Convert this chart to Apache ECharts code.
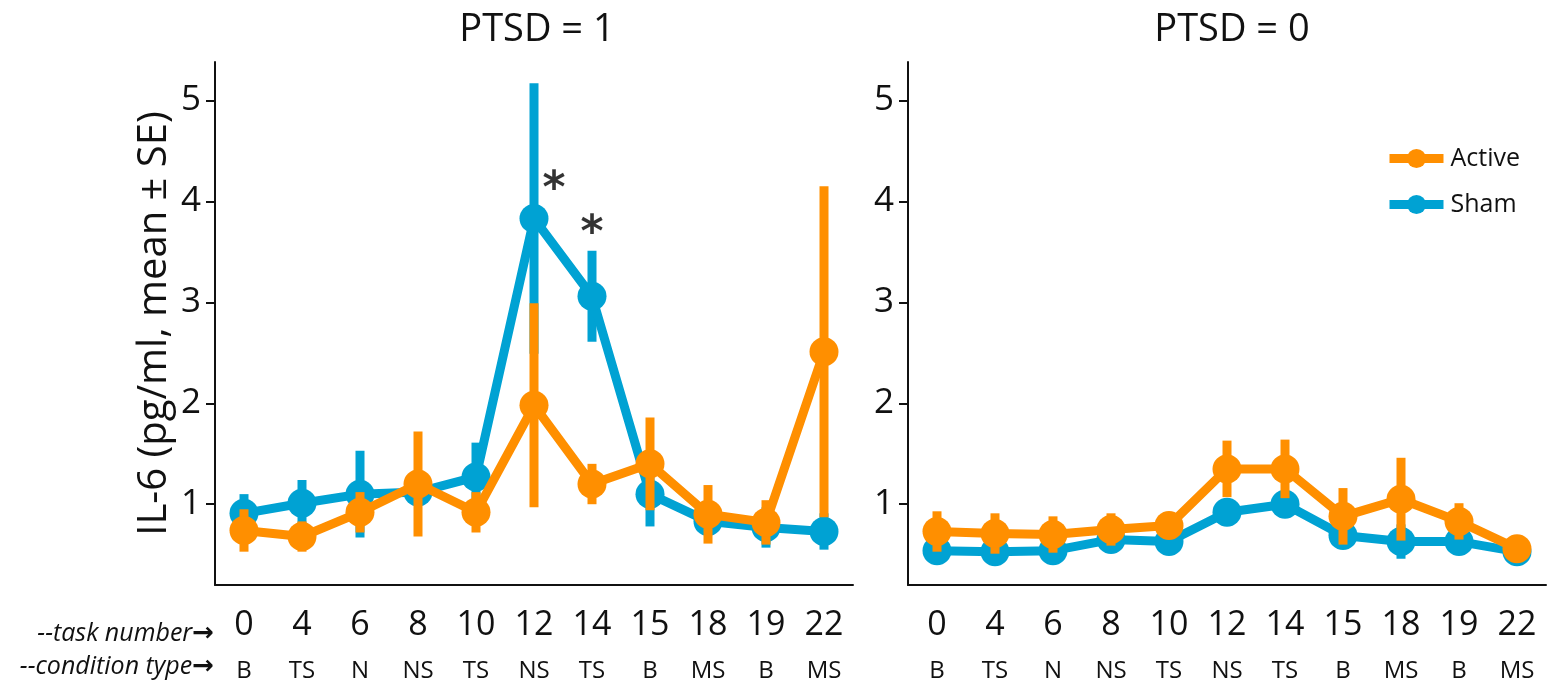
<!DOCTYPE html>
<html>
<head>
<meta charset="utf-8">
<script src="https://cdn.jsdelivr.net/npm/echarts@6/dist/echarts.min.js"></script>
<style>
html, body { margin: 0; padding: 0; background: #fff; }
#chart { width: 1553px; height: 695px; }
</style>
</head>
<body>
<div id="chart"></div>
<script>
// categories
var taskNumbers = ['0', '4', '6', '8', '10', '12', '14', '15', '18', '19', '22'];
var conditionTypes = ['B', 'TS', 'N', 'NS', 'TS', 'NS', 'TS', 'B', 'MS', 'B', 'MS'];
var yTicks = [1, 2, 3, 4, 5];

// PTSD = 1 (mean and SE)
var activeMean1 = [0.74, 0.68, 0.92, 1.20, 0.92, 1.98, 1.20, 1.40, 0.90, 0.82, 2.51];
var activeSE1   = [0.21, 0.15, 0.20, 0.52, 0.20, 1.01, 0.20, 0.46, 0.29, 0.22, 1.64];
var shamMean1   = [0.91, 1.01, 1.10, 1.12, 1.27, 3.83, 3.06, 1.10, 0.83, 0.77, 0.73];
var shamSE1     = [0.19, 0.23, 0.43, 0.12, 0.34, 1.34, 0.45, 0.32, 0.10, 0.20, 0.18];

// PTSD = 0 (mean and SE)
var activeMean0 = [0.73, 0.71, 0.70, 0.75, 0.79, 1.35, 1.35, 0.88, 1.05, 0.83, 0.56];
var activeSE0   = [0.20, 0.20, 0.18, 0.16, 0.13, 0.28, 0.29, 0.28, 0.41, 0.18, 0.03];
var shamMean0   = [0.54, 0.53, 0.54, 0.65, 0.63, 0.92, 1.00, 0.69, 0.63, 0.63, 0.53];
var shamSE0     = [0.08, 0.08, 0.07, 0.06, 0.08, 0.07, 0.13, 0.08, 0.17, 0.07, 0.05];

// significance marks (PTSD = 1)
var sigIndex1 = [5, 6];
var sigValue1 = [4.23, 3.79];
var sigShift1 = [20, 0];

var ORANGE = '#FF8F00';
var BLUE = '#00A2D3';
var FONT = 'Open Sans';

function errData(mean, se) {
    return mean.map(function (m, i) { return [i, m - se[i], m + se[i]]; });
}

function renderErr(params, api) {
    var lo = api.coord([api.value(0), api.value(1)]);
    var hi = api.coord([api.value(0), api.value(2)]);
    return {
        type: 'line',
        shape: { x1: lo[0], y1: lo[1], x2: hi[0], y2: hi[1] },
        style: { stroke: api.visual('color'), lineWidth: 9 }
    };
}

function errSeries(name, idx, mean, se, color, z) {
    return {
        name: name,
        type: 'custom',
        xAxisIndex: idx,
        yAxisIndex: idx,
        renderItem: renderErr,
        encode: { x: 0, y: [1, 2] },
        itemStyle: { color: color },
        data: errData(mean, se),
        z: z,
        silent: true
    };
}

function lineSeries(name, idx, mean, color, z) {
    return {
        name: name,
        type: 'line',
        xAxisIndex: idx,
        yAxisIndex: idx,
        data: mean,
        symbol: 'circle',
        symbolSize: 29,
        itemStyle: { color: color },
        lineStyle: { color: color, width: 9 },
        z: z
    };
}

function xAxis(idx) {
    return {
        gridIndex: idx,
        type: 'category',
        data: taskNumbers,
        boundaryGap: true,
        axisLine: { lineStyle: { color: '#111', width: 2 } },
        axisTick: { alignWithLabel: true, length: 10, lineStyle: { color: '#111', width: 2 } },
        axisLabel: {
            interval: 0,
            margin: 19,
            color: '#111',
            fontFamily: FONT,
            formatter: function (v, i) {
                return '{a|' + v + '}\n{b|' + conditionTypes[i] + '}';
            },
            rich: {
                a: { fontSize: 34, lineHeight: 42, fontFamily: FONT, color: '#111' },
                b: { fontSize: 24, lineHeight: 50, fontFamily: FONT, color: '#111' }
            }
        },
        splitLine: { show: false }
    };
}

function yAxis(idx, name) {
    return {
        gridIndex: idx,
        type: 'value',
        min: 0.2,
        max: 5.38,
        name: name,
        nameLocation: 'middle',
        nameGap: 40,
        nameTextStyle: { fontSize: 40, fontFamily: FONT, color: '#111' },
        axisLine: { show: true, lineStyle: { color: '#111', width: 2 } },
        axisTick: { show: true, length: 9, customValues: yTicks, lineStyle: { color: '#111', width: 2 } },
        axisLabel: { customValues: yTicks, fontSize: 35, margin: 14, color: '#111', fontFamily: FONT },
        splitLine: { show: false }
    };
}

var chart = echarts.init(document.getElementById('chart'));

chart.setOption({
    animation: false,
    backgroundColor: '#fff',
    textStyle: { fontFamily: FONT },
    title: [
        { text: 'PTSD = 1', left: 532, top: 6, textAlign: 'center',
          textStyle: { fontSize: 38, fontWeight: 'normal', fontFamily: FONT, color: '#111' } },
        { text: 'PTSD = 0', left: 1227, top: 6, textAlign: 'center',
          textStyle: { fontSize: 38, fontWeight: 'normal', fontFamily: FONT, color: '#111' } }
    ],
    legend: {
        data: ['Active', 'Sham'],
        orient: 'vertical',
        left: 1380,
        top: 141,
        itemWidth: 54,
        itemHeight: 24,
        itemGap: 21,
        lineStyle: { width: 9 },
        textStyle: { fontSize: 25, fontFamily: FONT, color: '#111', padding: [0, 0, 0, 2] }
    },
    grid: [
        { left: 215, top: 62, width: 638, height: 523 },
        { left: 908, top: 62, width: 638, height: 523 }
    ],
    xAxis: [xAxis(0), xAxis(1)],
    yAxis: [yAxis(0, 'IL-6 (pg/ml, mean \u00b1 SE)'), yAxis(1, '')],
    graphic: [
        { type: 'text', right: 1553 - 214, top: 621,
          style: {
              text: '{t|--task number}{r|\u2192}',
              rich: {
                  t: { fontSize: 25, fontStyle: 'italic', fontFamily: FONT, fill: '#111' },
                  r: { fontSize: 26, fontFamily: 'DejaVu Sans', fontWeight: 'bold', fill: '#111' }
              }
          } },
        { type: 'text', right: 1553 - 214, top: 654,
          style: {
              text: '{t|--condition type}{r|\u2192}',
              rich: {
                  t: { fontSize: 25, fontStyle: 'italic', fontFamily: FONT, fill: '#111' },
                  r: { fontSize: 26, fontFamily: 'DejaVu Sans', fontWeight: 'bold', fill: '#111' }
              }
          } }
    ],
    series: [
        errSeries('Sham SE', 0, shamMean1, shamSE1, BLUE, 2),
        lineSeries('Sham', 0, shamMean1, BLUE, 3),
        errSeries('Active SE', 0, activeMean1, activeSE1, ORANGE, 4),
        lineSeries('Active', 0, activeMean1, ORANGE, 5),
        errSeries('Sham SE', 1, shamMean0, shamSE0, BLUE, 2),
        lineSeries('Sham', 1, shamMean0, BLUE, 3),
        errSeries('Active SE', 1, activeMean0, activeSE0, ORANGE, 4),
        lineSeries('Active', 1, activeMean0, ORANGE, 5),
        {
            name: 'sig',
            type: 'scatter',
            xAxisIndex: 0,
            yAxisIndex: 0,
            symbolSize: 1,
            itemStyle: { color: 'rgba(0,0,0,0)' },
            data: sigIndex1.map(function (c, i) {
                return { value: [c, sigValue1[i]], label: { offset: [sigShift1[i], 12] } };
            }),
            label: {
                show: true,
                position: 'inside',
                formatter: '*',
                fontSize: 44,
                fontWeight: 'bold',
                fontFamily: 'DejaVu Sans',
                color: '#000'
            },
            z: 6,
            silent: true
        }
    ]
});
</script>
</body>
</html>
